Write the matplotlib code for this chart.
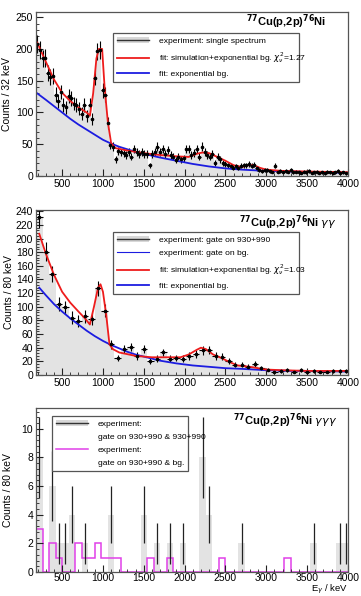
import numpy as np
import matplotlib
matplotlib.use("Agg")
import matplotlib.pyplot as plt
from matplotlib.patches import Patch
from matplotlib.lines import Line2D
from matplotlib.ticker import MultipleLocator

# --- panel 1: single spectrum, 32 keV bins ---
edges1 = np.arange(180, 3989, 32)
counts1 = [208, 198, 185, 186, 162, 156, 158, 128, 118, 132,
           112, 108, 126, 122, 114, 112, 106, 98, 112, 94,
           112, 90, 155, 196, 198, 135, 128, 83, 49, 46,
           26, 40, 37, 36, 33, 38, 30, 42, 38, 35,
           38, 35, 35, 17, 35, 38, 46, 38, 43, 35,
           41, 33, 30, 25, 30, 26, 28, 43, 42, 33,
           36, 43, 30, 46, 38, 33, 30, 35, 21, 30,
           26, 20, 19, 17, 15, 13, 15, 13, 16, 17,
           17, 19, 16, 18, 12, 9, 8, 10, 9, 8,
           7, 16, 7, 8, 7, 8, 7, 10, 6, 7,
           6, 5, 7, 6, 8, 5, 6, 7, 5, 6,
           4, 7, 6, 5, 6, 8, 5, 6, 4]
fit1_x = [196, 300, 400, 500, 600, 700, 800, 840, 880, 920, 950, 990, 1020,
          1060, 1100, 1150, 1300, 1500, 1700, 1900, 2050, 2150, 2220, 2300,
          2400, 2500, 2600, 2700, 2780, 2850, 2920, 3000, 3200, 3500, 4000]
fit1_y = [210, 180, 152, 131, 118, 108, 100, 95, 130, 185, 200, 200, 140,
          85, 52, 44, 40, 36, 33, 31, 30, 35, 37, 36,
          30, 24, 17, 14, 17, 17, 13, 10, 8, 7, 6]
bg1_x = [196, 300, 400, 500, 600, 700, 800, 900, 1000, 1100, 1200, 1300, 1400,
         1500, 1700, 1900, 2100, 2300, 2500, 2700, 3000, 3300, 3600, 4000]
bg1_y = [130, 120, 110, 100, 90, 81, 73, 65, 57, 51, 46, 42, 38,
         35, 29, 24, 19, 15, 12, 10, 8, 7, 6, 5]

# --- panel 2: gamma-gamma, 80 keV bins ---
edges2 = np.arange(180, 4021, 80)
counts2 = [231, 181, 148, 104, 99, 84, 79, 86, 82, 127,
           94, 45, 25, 38, 41, 28, 38, 21, 24, 33,
           24, 25, 24, 28, 31, 36, 37, 28, 27, 21,
           15, 15, 12, 16, 10, 8, 5, 6, 7, 5,
           7, 5, 6, 5, 5, 6, 6, 6]
fit2_x = [220, 300, 400, 500, 600, 700, 780, 840, 890, 940, 970, 1000, 1040,
          1080, 1120, 1200, 1400, 1600, 1800, 1950, 2050, 2150, 2200, 2260,
          2350, 2450, 2550, 2650, 2800, 3000, 3200, 3500, 4000]
fit2_y = [207, 178, 147, 122, 106, 93, 83, 74, 100, 128, 133, 122, 88,
          45, 38, 33, 28, 26, 26, 26, 30, 37, 40, 38,
          30, 25, 19, 14, 12, 8, 7, 6, 6]
bg2_x = [220, 300, 400, 500, 600, 700, 800, 900, 1000, 1100, 1200, 1300, 1400,
         1500, 1700, 1900, 2100, 2300, 2500, 2700, 3000, 3300, 3600, 4000]
bg2_y = [128, 117, 104, 93, 83, 74, 65, 57, 50, 44, 39, 34, 30,
         27, 21, 17, 14, 12, 10, 9, 7, 6, 6, 5]

# --- panel 3: triple coincidence, 80 keV bins ---
edges3 = edges2
counts3 = [8, 0, 6, 2, 2, 4, 0, 2, 0, 0,
           0, 4, 0, 0, 0, 0, 4, 0, 2, 0,
           2, 0, 2, 0, 0, 8, 4, 0, 0, 0,
           0, 2, 0, 0, 0, 0, 0, 0, 0, 0,
           0, 0, 2, 0, 0, 0, 2, 2]
bg3 = [3, 0, 2, 1, 0, 0, 2, 1, 1, 2,
       1, 1, 1, 0, 0, 0, 0, 1, 0, 0,
       1, 0, 0, 0, 0, 0, 0, 0, 1, 0,
       0, 0, 0, 0, 0, 0, 0, 0, 1, 0,
       0, 0, 0, 0, 0, 0, 0, 0]

GRAY = "#e3e3e3"
RED = "#ee1c1c"
BLUE = "#1c1ce0"
MAG = "#e040e8"
FRAME = "#555555"

plt.rcParams["font.family"] = ["Liberation Sans", "DejaVu Sans"]
fig = plt.figure(figsize=(3.61, 5.96), dpi=100)


def style_axes(ax, ymax, ymajor, yminor):
    ax.set_xlim(180, 4000)
    ax.set_ylim(0, ymax)
    ax.xaxis.set_major_locator(MultipleLocator(500))
    ax.xaxis.set_minor_locator(MultipleLocator(100))
    ax.yaxis.set_major_locator(MultipleLocator(ymajor))
    ax.yaxis.set_minor_locator(MultipleLocator(yminor))
    ax.tick_params(which="both", direction="in", top=False, right=False,
                   labelsize=7.5, pad=2, color="#222222")
    ax.tick_params(which="major", length=5)
    ax.tick_params(which="minor", length=2.5)
    for s in ax.spines.values():
        s.set_color(FRAME)
        s.set_linewidth(0.9)


def data_hist(ax, edges, counts):
    counts = np.asarray(counts, float)
    ax.stairs(counts, edges, fill=True, color=GRAY, lw=0)
    centers = 0.5 * (edges[:-1] + edges[1:])
    half = 0.5 * np.diff(edges)
    ax.errorbar(centers, counts, xerr=half, yerr=np.sqrt(counts), fmt="o",
                ms=1.6, color="black", elinewidth=0.8, capsize=0)


def leg(ax, handles, labels, box):
    lg = ax.legend(handles, labels, loc="upper left", bbox_to_anchor=box,
                   mode="expand", fontsize=6.1, frameon=True, fancybox=False,
                   edgecolor=FRAME, framealpha=1, handlelength=3.8,
                   handletextpad=1.2, borderpad=0.45, labelspacing=0.62)
    lg.get_frame().set_linewidth(0.9)


title = r"$^{\mathbf{77}}$Cu(p,2p)$^{\mathbf{76}}$Ni"
exp_handle = (Patch(facecolor="#d8d8d8", edgecolor="none"),
              Line2D([], [], color="#333333", lw=1))

# panel 1
ax1 = fig.add_axes([0.0997, 0.7047, 0.864, 0.275])
data_hist(ax1, edges1, counts1)
ax1.plot(bg1_x, bg1_y, color=BLUE, lw=1.3)
ax1.plot(fit1_x, fit1_y, color=RED, lw=1.3)
style_axes(ax1, 258, 50, 10)
ax1.set_ylabel("Counts / 32 keV", fontsize=7.5, labelpad=3)
leg(ax1, [exp_handle, Line2D([], [], color=RED, lw=1.3),
          Line2D([], [], color=BLUE, lw=1.3)],
    ["experiment: single spectrum",
     r"fit: simulation+exponential bg. $\chi^2_\nu$=1.27",
     "fit: exponential bg."], (0.234, 0.896, 0.622, 0.0))
ax1.text(0.93, 0.94, title, transform=ax1.transAxes, ha="right", va="center",
         fontsize=8, fontweight="bold")

# panel 2
ax2 = fig.add_axes([0.0997, 0.3708, 0.864, 0.277])
data_hist(ax2, edges2, counts2)
ax2.plot(bg2_x, bg2_y, color=BLUE, lw=1.3)
ax2.plot(fit2_x, fit2_y, color=RED, lw=1.3)
style_axes(ax2, 242, 20, 4)
ax2.set_ylabel("Counts / 80 keV", fontsize=7.5, labelpad=1)
leg(ax2, [exp_handle, Line2D([], [], color=BLUE, lw=0.8),
          Line2D([], [], color=RED, lw=1.3), Line2D([], [], color=BLUE, lw=1.3)],
    ["experiment: gate on 930+990", "experiment: gate on bg.",
     r"fit: simulation+exponential bg. $\chi^2_\nu$=1.03",
     "fit: exponential bg."], (0.234, 0.891, 0.622, 0.0))
ax2.text(0.965, 0.92, title + r" $\gamma\gamma$", transform=ax2.transAxes,
         ha="right", va="center", fontsize=8, fontweight="bold")

# panel 3
ax3 = fig.add_axes([0.0997, 0.0403, 0.864, 0.2751])
c3 = np.asarray(counts3, float)
ax3.stairs(c3, edges3, fill=True, color=GRAY, lw=0)
cent3 = 0.5 * (edges3[:-1] + edges3[1:])
nz = c3 > 0
ax3.vlines(cent3[nz], c3[nz] - np.sqrt(c3[nz]), c3[nz] + np.sqrt(c3[nz]),
           color="#222222", lw=0.9)
ax3.stairs(bg3, edges3, color=MAG, lw=1.1)
style_axes(ax3, 11.45, 2, 0.4)
ax3.tick_params(axis="x", pad=1)
ax3.set_ylabel("Counts / 80 keV", fontsize=7.5, labelpad=6)
fig.text(0.963, 0.0, r"E$_\gamma$ / keV", ha="right", va="bottom",
         fontsize=6.8)
blank = Line2D([], [], color="none")
leg(ax3, [exp_handle, blank, Line2D([], [], color=MAG, lw=1.1), blank],
    ["experiment:", "gate on 930+990 & 930+990", "experiment:",
     "gate on 930+990 & bg."], (0.0375, 0.976, 0.465, 0.0))
ax3.text(0.965, 0.92, title + r" $\gamma\gamma\gamma$", transform=ax3.transAxes,
         ha="right", va="center", fontsize=8, fontweight="bold")

fig.savefig("out.png", dpi=100)
